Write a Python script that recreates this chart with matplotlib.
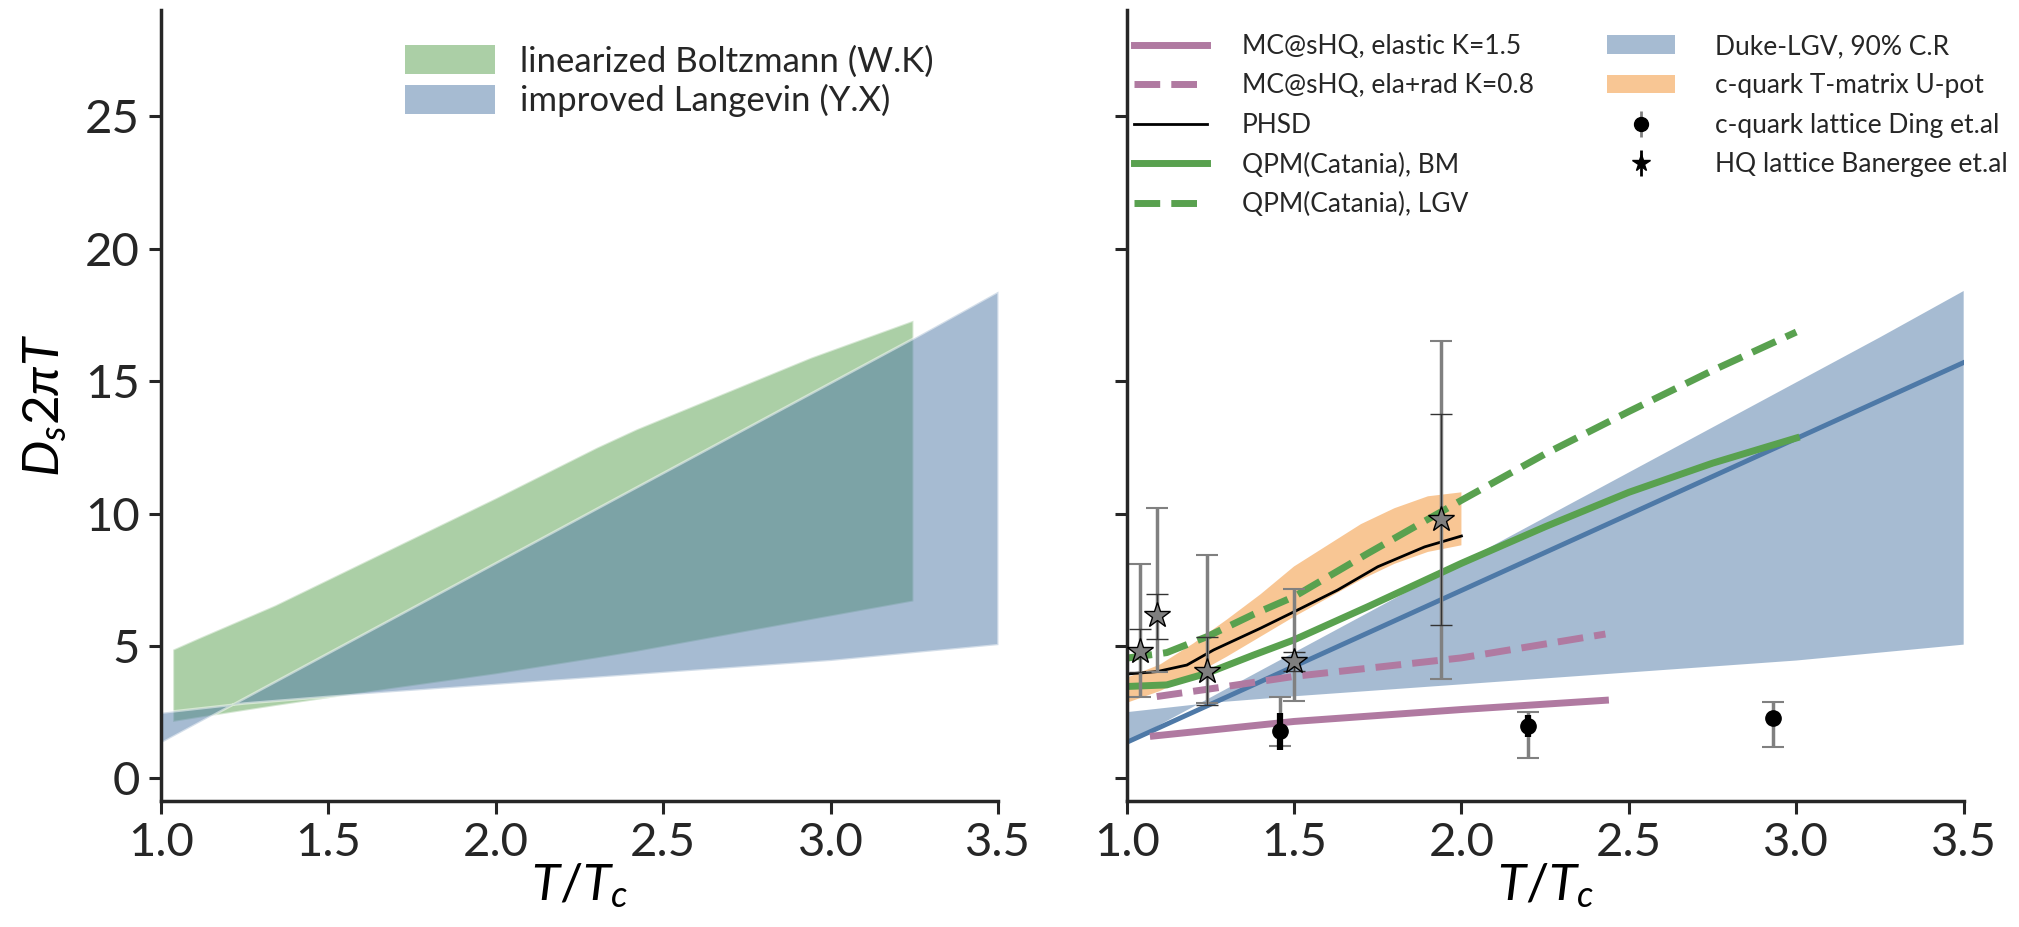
import numpy as np
import matplotlib
matplotlib.use("Agg")
import matplotlib.pyplot as plt
from matplotlib.patches import Patch
from matplotlib.lines import Line2D

plt.rcParams['font.family'] = ['Lato', 'DejaVu Sans']
plt.rcParams['mathtext.fontset'] = 'custom'
plt.rcParams['mathtext.rm'] = 'Lato'
plt.rcParams['mathtext.it'] = 'Lato:italic'
plt.rcParams['mathtext.bf'] = 'Lato:bold'
plt.rcParams['axes.edgecolor'] = '#262626'
plt.rcParams['xtick.color'] = '#262626'
plt.rcParams['ytick.color'] = '#262626'
plt.rcParams['text.color'] = '#262626'

C_BLUE = '#4E79A7'
C_GREEN = '#59A14F'
C_ORANGE = '#F28E2B'
C_PURPLE = '#B07AA1'

# ---- linearized Boltzmann band (W.K)
lbt_T = [1.035, 1.11, 1.34, 1.69, 2.0, 2.30, 2.42, 2.94, 3.246]
lbt_hi = [4.88, 5.3, 6.55, 8.7, 10.6, 12.5, 13.2, 15.9, 17.3]
lbt_lo = [2.15, 2.3, 2.75, 3.4, 3.95, 4.55, 4.8, 6.0, 6.7]

# ---- Duke-LGV / improved Langevin 90% band
lgv_T = [1.0, 1.25, 1.5, 2.0, 2.5, 3.0, 3.25, 3.5]
lgv_a = [1.35, 3.05, 4.75, 8.15, 11.55, 14.95, 16.65, 18.4]
lgv_b = [2.5, 2.85, 3.1, 3.55, 4.0, 4.45, 4.75, 5.05]
lgv_line_T = [1.0, 3.5]
lgv_line = [1.36, 15.7]

# ---- c-quark T-matrix U-potential band
tm_T = [1.0, 1.1, 1.2, 1.3, 1.4, 1.5, 1.6, 1.7, 1.8, 1.9, 2.0]
tm_hi = [3.8, 4.3, 5.1, 6.0, 6.95, 8.0, 8.8, 9.6, 10.2, 10.65, 10.8]
tm_lo = [2.85, 3.3, 3.9, 4.6, 5.35, 6.1, 6.8, 7.5, 8.1, 8.55, 8.8]

# ---- MC@sHQ
mc_el_T = [1.08, 1.5, 2.0, 2.43]
mc_el = [1.6, 2.15, 2.6, 2.95]
mc_rad_T = [1.09, 1.26, 1.5, 2.0, 2.43]
mc_rad = [3.09, 3.4, 3.85, 4.55, 5.45]

# ---- PHSD
phsd_T = [1.0, 1.09, 1.18, 1.26, 1.4, 1.5, 1.63, 1.75, 1.89, 2.0]
phsd = [3.94, 4.03, 4.28, 4.85, 5.67, 6.29, 7.11, 7.99, 8.74, 9.15]

# ---- QPM (Catania)
qpm_T = [1.0, 1.12, 1.24, 1.38, 1.5, 1.72, 2.0, 2.25, 2.5, 2.75, 3.0]
qpm_bm = [3.47, 3.53, 3.97, 4.66, 5.23, 6.48, 8.12, 9.5, 10.8, 11.9, 12.85]
qpm_lgv = [4.54, 4.75, 5.35, 6.2, 6.86, 8.49, 10.5, 12.25, 13.85, 15.4, 16.85]

# ---- lattice: c-quark (Ding et al.)
ding_T = [1.458, 2.2, 2.93]
ding = [1.8, 1.96, 2.28]
ding_sys_hi = [3.09, 2.49, 2.9]
ding_sys_lo = [1.24, 0.77, 1.2]
ding_st_hi = [2.46, 2.4, 2.55]
ding_st_lo = [1.06, 1.56, 2.0]

# ---- lattice: heavy quark (Banerjee et al.)
ban_T = [1.04, 1.09, 1.24, 1.50, 1.94]
ban = [4.8, 6.17, 4.06, 4.45, 9.79]
ban_out_hi = [8.08, 10.19, 8.42, 7.16, 16.5]
ban_out_lo = [3.09, 4.03, 2.85, 2.92, 3.77]
ban_in_hi = [5.63, 6.98, 5.35, 4.79, 13.77]
ban_in_lo = [4.0, 5.25, 2.77, 4.06, 5.79]


def style_axis(ax):
    ax.set_xlim(1.0, 3.5)
    ax.set_ylim(-0.85, 29.0)
    ax.set_xticks([1.0, 1.5, 2.0, 2.5, 3.0, 3.5])
    ax.set_yticks([0, 5, 10, 15, 20, 25])
    for s in ['top', 'right']:
        ax.spines[s].set_visible(False)
    for s in ['left', 'bottom']:
        ax.spines[s].set_linewidth(2.5)
    ax.tick_params(direction='out', length=9, width=2.2, labelsize=34, pad=6)
    ax.set_xlabel(r'$T/T_c$', fontsize=37, labelpad=-2)


def yerr(v, lo, hi):
    v = np.array(v)
    return [v - np.array(lo), np.array(hi) - v]


fig = plt.figure(figsize=(20.19, 9.27), dpi=100)
ax1 = fig.add_axes([0.0797, 0.136, 0.4146, 0.853])
ax2 = fig.add_axes([0.558, 0.136, 0.4146, 0.853], sharey=ax1)

# left panel
ax1.fill_between(lbt_T, lbt_lo, lbt_hi, facecolor=C_GREEN, edgecolor='white',
                 linewidth=1.5, alpha=0.5)
ax1.fill_between(lgv_T, lgv_a, lgv_b, facecolor=C_BLUE, edgecolor='white',
                 linewidth=1.8, alpha=0.5)
style_axis(ax1)
ax1.set_ylabel(r'$D_s 2\pi T$', fontsize=37, labelpad=12)
ax1.legend(handles=[Patch(facecolor=C_GREEN, alpha=0.5, label='linearized Boltzmann (W.K)'),
                    Patch(facecolor=C_BLUE, alpha=0.5, label='improved Langevin (Y.X)')],
           loc='upper right', bbox_to_anchor=(0.96, 0.995), frameon=False, fontsize=25,
           handlelength=2.6, handleheight=0.9, labelspacing=0.18, handletextpad=0.7)

# right panel
ax2.fill_between(lgv_T, lgv_a, lgv_b, facecolor=C_BLUE, edgecolor='none', alpha=0.5)
ax2.fill_between(tm_T, tm_lo, tm_hi, facecolor=C_ORANGE, edgecolor='none', alpha=0.5)
ax2.plot(lgv_line_T, lgv_line, color=C_BLUE, lw=3.5)
ax2.plot(mc_el_T, mc_el, color=C_PURPLE, lw=5)
ax2.plot(mc_rad_T, mc_rad, color=C_PURPLE, lw=5, ls='--')
ax2.plot(qpm_T, qpm_bm, color=C_GREEN, lw=5)
ax2.plot(qpm_T, qpm_lgv, color=C_GREEN, lw=5, ls='--')
ax2.plot(phsd_T, phsd, color='black', lw=2)

ax2.errorbar(ding_T, ding, yerr=yerr(ding, ding_sys_lo, ding_sys_hi), fmt='none',
             ecolor='gray', elinewidth=2.5, capsize=8, capthick=1.5)
ax2.errorbar(ding_T, ding, yerr=yerr(ding, ding_st_lo, ding_st_hi), fmt='o', color='black',
             ms=11, elinewidth=4.5, capsize=0)
ax2.errorbar(ban_T, ban, yerr=yerr(ban, ban_out_lo, ban_out_hi), fmt='none',
             ecolor='gray', elinewidth=2.5, capsize=8, capthick=1.5)
ax2.errorbar(ban_T, ban, yerr=yerr(ban, ban_in_lo, ban_in_hi), fmt='*', color='#7f7f7f',
             mec='black', mew=1.0, ms=19, ecolor='#333333', elinewidth=0.8,
             capsize=8, capthick=1.0, zorder=5)
style_axis(ax2)
plt.setp(ax2.get_yticklabels(), visible=False)

line_handles = [
    Line2D([], [], color=C_PURPLE, lw=5, label='MC@sHQ, elastic K=1.5'),
    Line2D([], [], color=C_PURPLE, lw=5, ls='--', label='MC@sHQ, ela+rad K=0.8'),
    Line2D([], [], color='black', lw=2, label='PHSD'),
    Line2D([], [], color=C_GREEN, lw=5, label='QPM(Catania), BM'),
    Line2D([], [], color=C_GREEN, lw=5, ls='--', label='QPM(Catania), LGV'),
]
leg2 = ax2.legend(handles=line_handles, loc='upper left', bbox_to_anchor=(-0.02, 1.0),
                  frameon=False, fontsize=19, handlelength=2.8, labelspacing=0.55,
                  handletextpad=1.3)
ax2.add_artist(leg2)

h_duke = Patch(facecolor=C_BLUE, alpha=0.5, label='Duke-LGV, 90% C.R')
h_tm = Patch(facecolor=C_ORANGE, alpha=0.5, label='c-quark T-matrix U-pot')
h_ding = ax2.errorbar([], [], yerr=[], fmt='o', color='black', ecolor='gray', ms=10,
                      elinewidth=2, capsize=5, label='c-quark lattice Ding et.al')
h_ban = ax2.errorbar([], [], yerr=[], fmt='*', color='black', ecolor='black', ms=13,
                     elinewidth=2, capsize=5, label='HQ lattice Banergee et.al')
ax2.legend(handles=[h_duke, h_tm, h_ding, h_ban], loc='upper left',
           bbox_to_anchor=(0.545, 1.0), frameon=False, fontsize=19,
           handlelength=2.6, labelspacing=0.55, handletextpad=1.5)

fig.savefig('out.png', dpi=100)
